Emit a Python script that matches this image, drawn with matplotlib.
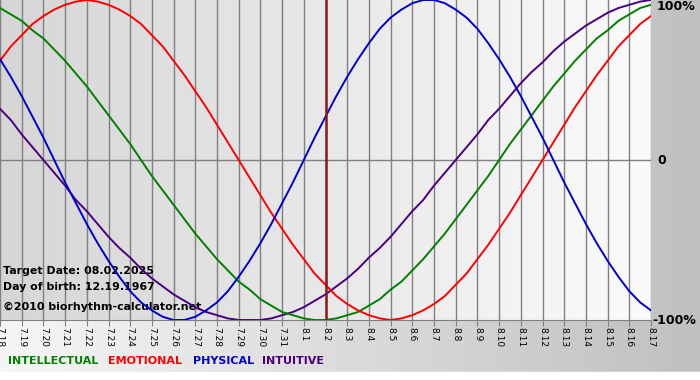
import numpy as np
import matplotlib
matplotlib.use("Agg")
import matplotlib.pyplot as plt
from matplotlib.colors import LinearSegmentedColormap

# day labels 7.18 .. 8.17
dates = ["7.18", "7.19", "7.20", "7.21", "7.22", "7.23", "7.24", "7.25", "7.26", "7.27",
         "7.28", "7.29", "7.30", "7.31", "8.1", "8.2", "8.3", "8.4", "8.5", "8.6",
         "8.7", "8.8", "8.9", "8.10", "8.11", "8.12", "8.13", "8.14", "8.15", "8.16", "8.17"]

physical = [0.63, 0.52, 0.40, 0.27, 0.14, 0.00, -0.14, -0.27, -0.40, -0.52,
            -0.63, -0.73, -0.82, -0.89, -0.94, -0.98, -1.00, -1.00, -0.98, -0.94,
            -0.89, -0.82, -0.73, -0.63, -0.52, -0.40, -0.27, -0.14, 0.00, 0.14,
            0.27, 0.40, 0.52, 0.63, 0.73, 0.82, 0.89, 0.94, 0.98, 1.00,
            1.00, 0.98, 0.94, 0.89, 0.82, 0.73, 0.63, 0.52, 0.40, 0.27,
            0.14, 0.00, -0.14, -0.27, -0.40, -0.52, -0.63, -0.73, -0.82, -0.89, -0.94]
emotional = [0.62, 0.71, 0.78, 0.85, 0.90, 0.94, 0.97, 0.99, 1.00, 0.99,
             0.97, 0.94, 0.90, 0.85, 0.78, 0.71, 0.62, 0.53, 0.43, 0.33,
             0.22, 0.11, 0.00, -0.11, -0.22, -0.33, -0.43, -0.53, -0.62, -0.71,
             -0.78, -0.85, -0.90, -0.94, -0.97, -0.99, -1.00, -0.99, -0.97, -0.94,
             -0.90, -0.85, -0.78, -0.71, -0.62, -0.53, -0.43, -0.33, -0.22, -0.11,
             0.00, 0.11, 0.22, 0.33, 0.43, 0.53, 0.62, 0.71, 0.78, 0.85, 0.90]
intellectual = [0.95, 0.91, 0.87, 0.81, 0.76, 0.69, 0.62, 0.54, 0.46, 0.37,
                0.28, 0.19, 0.10, 0.00, -0.10, -0.19, -0.28, -0.37, -0.46, -0.54,
                -0.62, -0.69, -0.76, -0.81, -0.87, -0.91, -0.95, -0.97, -0.99, -1.00,
                -1.00, -0.99, -0.97, -0.95, -0.91, -0.87, -0.81, -0.76, -0.69, -0.62,
                -0.54, -0.46, -0.37, -0.28, -0.19, -0.10, 0.00, 0.10, 0.19, 0.28,
                0.37, 0.46, 0.54, 0.62, 0.69, 0.76, 0.81, 0.87, 0.91, 0.95, 0.97]
intuitive = [0.32, 0.25, 0.16, 0.08, 0.00, -0.08, -0.16, -0.25, -0.32, -0.40,
             -0.48, -0.55, -0.61, -0.68, -0.74, -0.79, -0.84, -0.88, -0.92, -0.95,
             -0.97, -0.99, -1.00, -1.00, -1.00, -0.99, -0.97, -0.95, -0.92, -0.88,
             -0.84, -0.79, -0.74, -0.68, -0.61, -0.55, -0.48, -0.40, -0.32, -0.25,
             -0.16, -0.08, 0.00, 0.08, 0.16, 0.25, 0.32, 0.40, 0.48, 0.55,
             0.61, 0.68, 0.74, 0.79, 0.84, 0.88, 0.92, 0.95, 0.97, 0.99, 1.00]

target_idx = dates.index("8.2")

W, H = 700, 380
fig = plt.figure(figsize=(7, 3.8), dpi=100)

# background gradient (light left -> gray right)
bg = fig.add_axes([0, 0, 1, 1])
bg_cmap = LinearSegmentedColormap.from_list("bg", ["#f6f6f6", "#c0c0c0"])
bg.imshow(np.linspace(0, 1, 256).reshape(1, -1), cmap=bg_cmap, aspect="auto",
          extent=[0, 1, 0, 1])
bg.axhspan(0, 8 / H, color="white")
bg.set_xlim(0, 1)
bg.set_ylim(0, 1)
bg.axis("off")

ax = fig.add_axes([0, 60 / H, 651 / W, 320 / H])
x = np.arange(len(dates))
xh = np.arange(len(physical)) / 2.0
ax.set_xlim(0, len(dates) - 1)
ax.set_ylim(-1, 1)

# plot area gradient
pa_cmap = LinearSegmentedColormap.from_list("pa", ["#d6d6d6", "#fbfbfb"])
ax.imshow(np.linspace(0, 1, 256).reshape(1, -1), cmap=pa_cmap, aspect="auto",
          extent=[0, len(dates) - 1, -1, 1], zorder=0)

for i in x:
    ax.axvline(i, color="#808080", lw=1, zorder=1)
ax.axhline(0, color="#808080", lw=1, zorder=1)

ax.plot(xh, intuitive, color="#4b0082", lw=1.4, zorder=3)
ax.plot(xh, intellectual, color="#008000", lw=1.4, zorder=3)
ax.plot(xh, emotional, color="#ff0000", lw=1.4, zorder=3)
ax.plot(xh, physical, color="#0000cc", lw=1.4, zorder=3)

ax.axvline(target_idx, color="#8b1a1a", lw=1.8, zorder=4)

for s in ax.spines.values():
    s.set_visible(False)
ax.spines["bottom"].set_visible(True)
ax.spines["bottom"].set_color("#808080")
ax.set_yticks([])
ax.set_xticks(x)
ax.set_xticklabels(dates, rotation=-90, fontsize=6.5, family="DejaVu Sans")
ax.tick_params(axis="x", length=4, color="#808080", pad=1)

# info texts (under the curves)
info_style = dict(fontsize=7.9, fontweight="bold", color="black",
                  transform=fig.transFigure, zorder=2, va="center", ha="left")
ax.text(3 / W, 1 - 271 / H, "Target Date: 08.02.2025", **info_style)
ax.text(3 / W, 1 - 287 / H, "Day of birth: 12.19.1967", **info_style)
ax.text(3 / W, 1 - 307 / H, "\u00a92010 biorhythm-calculator.net", **info_style)

# right-hand scale labels
fig.text(657 / W, 1 - 7 / H, "100%", fontsize=9, fontweight="bold", va="center")
fig.text(657 / W, 1 - 161 / H, "0", fontsize=9, fontweight="bold", va="center")
fig.text(652 / W, 1 - 321 / H, "-100%", fontsize=9, fontweight="bold", va="center")

# legend row
legend = [("INTELLECTUAL", "#008000", 8), ("EMOTIONAL", "#ff0000", 108),
          ("PHYSICAL", "#0000cc", 193), ("INTUITIVE", "#4b0082", 262)]
for label, col, px in legend:
    fig.text(px / W, 1 - 361 / H, label, color=col, fontsize=8,
             fontweight="bold", va="center")

fig.savefig("out.png", dpi=100)
